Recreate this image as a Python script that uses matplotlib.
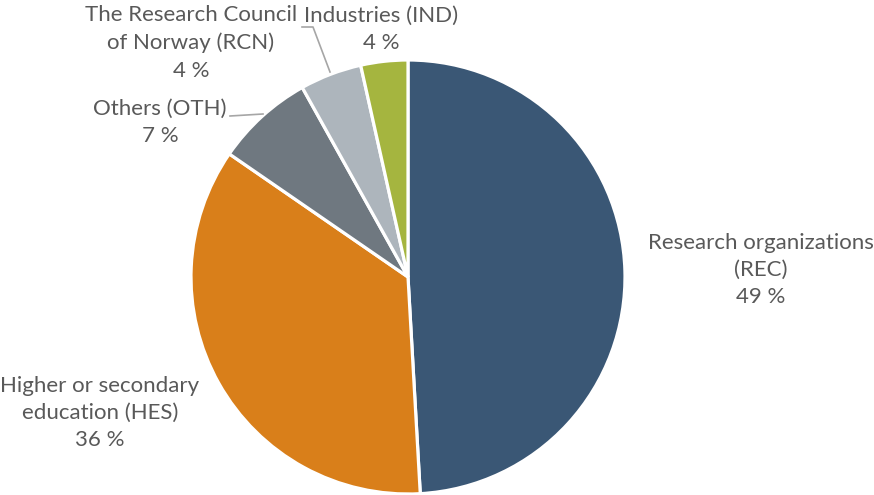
import matplotlib
matplotlib.use("Agg")
import matplotlib.pyplot as plt

categories = ["Research organizations\n(REC)", "Higher or secondary\neducation (HES)", "Others (OTH)",
              "The Research Council\nof Norway (RCN)", "Industries (IND)"]
values = [49.1, 35.5, 7.3, 4.6, 3.5]
pct_labels = ["49 %", "36 %", "7 %", "4 %", "4 %"]
colors = ["#3A5775", "#D97F1A", "#6F7880", "#ADB5BC", "#A5B53F"]

W, H = 874, 495
fig = plt.figure(figsize=(W / 100, H / 100), dpi=100)
ax = fig.add_axes([0, 0, 1, 1])
ax.pie(values, colors=colors, startangle=90, counterclock=False,
       center=(408, H - 277), radius=217,
       wedgeprops=dict(edgecolor="white", linewidth=2.3))
ax.set_xlim(0, W)
ax.set_ylim(0, H)
ax.set_aspect("auto")
ax.axis("off")

tc = "#595959"
fam = ["Lato", "DejaVu Sans"]
fs = 16

def lab(x, y, s, ha="center"):
    ax.text(x, H - y, s, ha=ha, va="center", color=tc, fontsize=fs,
            family=fam, linespacing=1.45)

# positions (image pixel coords) of label centers
pos = [(761, 270), (100, 413), (160, 122), (191, 43), (381, 29)]
for (x, y), c, p in zip(pos, categories, pct_labels):
    lab(x, y, c + "\n" + p)

# leader lines
lc = "#A6A6A6"
ax.plot([230, 263], [H - 116, H - 114], color=lc, lw=1.2)
ax.plot([302, 313, 330], [H - 27, H - 27, H - 72], color=lc, lw=1.2)

fig.savefig("out.png", dpi=100)
